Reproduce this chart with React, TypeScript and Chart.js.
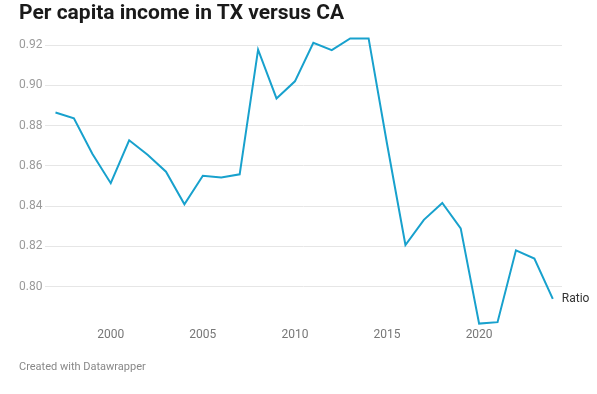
import React, { useEffect, useRef } from "react";
import { Chart, registerables } from "chart.js";

Chart.register(...registerables);

const years = [1997, 1998, 1999, 2000, 2001, 2002, 2003, 2004, 2005, 2006, 2007, 2008, 2009, 2010, 2011, 2012, 2013, 2014, 2015, 2016, 2017, 2018, 2019, 2020, 2021, 2022, 2023, 2024];
const ratio = [0.8865, 0.8836, 0.866, 0.8514, 0.8727, 0.8655, 0.8571, 0.8409, 0.8551, 0.8543, 0.8558, 0.9177, 0.8935, 0.902, 0.9211, 0.9175, 0.9233, 0.9233, 0.871, 0.8207, 0.8332, 0.8416, 0.829, 0.7817, 0.7824, 0.8181, 0.814, 0.794];
const yTicks = [0.8, 0.82, 0.84, 0.86, 0.88, 0.9, 0.92];
const xTicks = [2000, 2005, 2010, 2015, 2020];
const seriesName = "Ratio";
const title = "Per capita income in TX versus CA";
const credit = "Created with Datawrapper";

const FONT = "Roboto, 'Noto Sans', sans-serif";

export default function App() {
  const ref = useRef<HTMLCanvasElement | null>(null);

  useEffect(() => {
    const labelPlugin = {
      id: "lastLabel",
      afterDatasetsDraw(chart: any) {
        const meta = chart.getDatasetMeta(0);
        const pt = meta.data[meta.data.length - 1];
        const ctx = chart.ctx;
        ctx.save();
        ctx.font = `12px ${FONT}`;
        ctx.fillStyle = "#333";
        ctx.textAlign = "left";
        ctx.textBaseline = "middle";
        ctx.fillText(seriesName, pt.x + 9, pt.y);
        ctx.restore();
      },
    };
    const chart = new Chart(ref.current!, {
      type: "line",
      data: {
        datasets: [
          {
            label: seriesName,
            data: years.map((y, i) => ({ x: y, y: ratio[i] })),
            borderColor: "#18a1cd",
            borderWidth: 2,
            pointRadius: 0,
            tension: 0,
            fill: false,
          },
        ],
      },
      options: {
        animation: false,
        responsive: false,
        maintainAspectRatio: false,
        layout: { padding: { left: 19, right: 35, top: 35, bottom: 47 } },
        plugins: { legend: { display: false }, tooltip: { enabled: false } },
        scales: {
          x: {
            type: "linear",
            min: 1996.42,
            max: 2024.5,
            afterBuildTicks: (s: any) => {
              s.ticks = xTicks.map((v) => ({ value: v }));
            },
            afterFit: (s: any) => {
              s.height = 20;
            },
            grid: { display: false, drawTicks: false },
            border: { display: false },
            ticks: {
              padding: 1,
              color: "#777",
              font: { family: FONT, size: 12 },
              callback: (v: any) => String(v),
              maxRotation: 0,
            },
          },
          y: {
            min: 0.78,
            max: 0.925,
            afterBuildTicks: (s: any) => {
              s.ticks = yTicks.map((v) => ({ value: v }));
            },
            afterFit: (s: any) => {
              s.width = 25.8;
            },
            grid: { color: "#e6e6e6", drawTicks: false, lineWidth: 1 },
            border: { display: false },
            ticks: {
              crossAlign: "far",
              color: "#9a9a9a",
              font: { family: FONT, size: 12 },
              callback: (v: any) => Number(v).toFixed(2),
            },
          },
        },
      },
      plugins: [labelPlugin],
    });
    return () => chart.destroy();
  }, []);

  return (
    <div style={{ position: "fixed", left: 0, top: 0, width: 597, height: 394, background: "#fff", fontFamily: FONT }}>
      <canvas ref={ref} width={597} height={394} style={{ position: "absolute", left: 0, top: 0, width: 597, height: 394 }} />
      <div style={{ position: "absolute", left: 19, top: 0, fontSize: 21, fontWeight: 700, color: "#1a1a1a", lineHeight: "25px", whiteSpace: "nowrap" }}>
        {title}
      </div>
      <div style={{ position: "absolute", left: 19, top: 359, fontSize: 11, color: "#888", lineHeight: "16px", whiteSpace: "nowrap" }}>
        {credit}
      </div>
    </div>
  );
}
